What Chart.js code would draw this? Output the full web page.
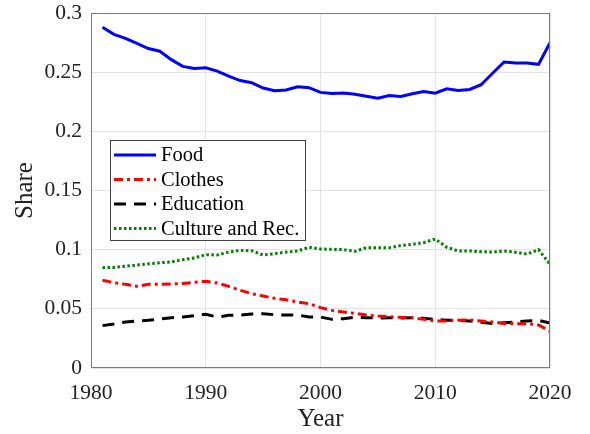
<!DOCTYPE html>
<html>
<head>
<meta charset="utf-8">
<script src="https://cdn.jsdelivr.net/npm/chart.js@4/dist/chart.umd.min.js"></script>
<style>
    html, body { margin: 0; padding: 0; background: #fff; }
    #wrap { width: 590px; height: 434px; }
</style>
</head>
<body>
<div id="wrap"><canvas id="shareChart" width="590" height="434"></canvas></div>
<script>
const years = [1981, 1982, 1983, 1984, 1985, 1986, 1987, 1988, 1989, 1990,
               1991, 1992, 1993, 1994, 1995, 1996, 1997, 1998, 1999, 2000,
               2001, 2002, 2003, 2004, 2005, 2006, 2007, 2008, 2009, 2010,
               2011, 2012, 2013, 2014, 2015, 2016, 2017, 2018, 2019, 2020];

const food = [0.288, 0.282, 0.2786, 0.2743, 0.270, 0.2677, 0.2606, 0.2549, 0.2531, 0.2537,
              0.2509, 0.2466, 0.2429, 0.2411, 0.2366, 0.2343, 0.2349, 0.2377, 0.2369, 0.2329,
              0.232, 0.2323, 0.2314, 0.2297, 0.228, 0.2303, 0.2294, 0.2317, 0.2337, 0.2323,
              0.236, 0.2346, 0.2354, 0.2394, 0.2491, 0.2586, 0.2577, 0.2577, 0.2566, 0.2749];

const clothes = [0.0741, 0.0721, 0.0707, 0.069, 0.0707, 0.0707, 0.071, 0.0715, 0.0724, 0.0732,
                 0.0718, 0.069, 0.0656, 0.0628, 0.0608, 0.0589, 0.0577, 0.0558, 0.0544, 0.051,
                 0.0487, 0.0473, 0.0462, 0.0448, 0.0439, 0.0434, 0.0428, 0.0425, 0.0411, 0.0397,
                 0.0397, 0.0403, 0.0406, 0.0397, 0.0389, 0.0377, 0.0375, 0.0375, 0.0363, 0.031];

const education = [0.0358, 0.0372, 0.0389, 0.0397, 0.0403, 0.0414, 0.0425, 0.0431, 0.0442, 0.0454,
                   0.0431, 0.0445, 0.0448, 0.0456, 0.0459, 0.045, 0.0448, 0.0448, 0.0431, 0.0431,
                   0.0411, 0.0417, 0.0428, 0.0425, 0.0423, 0.0425, 0.0423, 0.0425, 0.042, 0.0411,
                   0.0403, 0.0403, 0.0397, 0.0386, 0.0375, 0.0383, 0.0389, 0.0397, 0.0403, 0.038];

const culture = [0.0848, 0.085, 0.086, 0.087, 0.088, 0.089, 0.0896, 0.0915, 0.093, 0.0958,
                 0.0955, 0.098, 0.0994, 0.099, 0.0955, 0.0966, 0.098, 0.0989, 0.102, 0.1006,
                 0.1003, 0.1, 0.0986, 0.1017, 0.1017, 0.1017, 0.1034, 0.1045, 0.106, 0.109,
                 0.102, 0.0989, 0.0989, 0.0983, 0.098, 0.0989, 0.0978, 0.0963, 0.1, 0.0876];

const seriesNames = ['Food', 'Clothes', 'Education', 'Culture and Rec.'];
const xTicks = [1980, 1990, 2000, 2010, 2020];
const yTicks = [0, 0.05, 0.1, 0.15, 0.2, 0.25, 0.3];

const FONT = "'Liberation Serif', 'Times New Roman', serif";

function toPoints(vals) {
    return years.map((y, i) => ({ x: y, y: vals[i] }));
}

// box around the plot + legend inside the axes
const boxLegend = {
    id: 'boxLegend',
    afterDatasetsDraw(chart) {
        const { ctx, chartArea } = chart;
        ctx.save();
        ctx.strokeStyle = '#7a7a7a';
        ctx.lineWidth = 1;
        ctx.setLineDash([]);
        ctx.strokeRect(chartArea.left + 0.5, chartArea.top + 0.5,
                       chartArea.right - chartArea.left - 1, chartArea.bottom - chartArea.top - 1);

        const lx = chartArea.left + 19;
        const ly = chartArea.top + 127;
        const lw = 195;
        const lh = 100;
        ctx.fillStyle = '#fff';
        ctx.fillRect(lx, ly, lw, lh);
        ctx.strokeStyle = '#444';
        ctx.strokeRect(lx + 0.5, ly + 0.5, lw, lh);

        ctx.font = '20.5px ' + FONT;
        ctx.textBaseline = 'middle';
        chart.data.datasets.forEach((ds, i) => {
            const rowY = ly + 15 + i * 24.5;
            ctx.strokeStyle = ds.borderColor;
            ctx.lineWidth = ds.borderWidth;
            ctx.setLineDash(ds.borderDash || []);
            ctx.beginPath();
            ctx.moveTo(lx + 4, rowY);
            ctx.lineTo(lx + 46, rowY);
            ctx.stroke();
            ctx.setLineDash([]);
            ctx.fillStyle = '#000';
            ctx.fillText(ds.label, lx + 51, rowY + 1);
        });
        ctx.restore();
    }
};

const ctx = document.getElementById('shareChart').getContext('2d');
new Chart(ctx, {
    type: 'line',
    data: {
        datasets: [
            { label: seriesNames[0], data: toPoints(food), borderColor: '#0000ff', borderWidth: 3 },
            { label: seriesNames[1], data: toPoints(clothes), borderColor: '#ff0000', borderWidth: 3, borderDash: [9, 4, 3, 4] },
            { label: seriesNames[2], data: toPoints(education), borderColor: '#000000', borderWidth: 3, borderDash: [12, 8] },
            { label: seriesNames[3], data: toPoints(culture), borderColor: '#008000', borderWidth: 3, borderDash: [2.5, 2.5] }
        ]
    },
    options: {
        responsive: false,
        animation: false,
        layout: { padding: { left: 0, right: 40, top: 13, bottom: 0 } },
        elements: { point: { radius: 0 }, line: { tension: 0, fill: false } },
        plugins: { legend: { display: false }, tooltip: { enabled: false } },
        scales: {
            x: {
                type: 'linear',
                min: 1980,
                max: 2020,
                afterBuildTicks: scale => { scale.ticks = xTicks.map(v => ({ value: v })); },
                afterFit: scale => {
                    scale.height = 66;
                    scale.paddingLeft = 0;
                    scale.paddingRight = 0;
                },
                grid: { color: '#e3e3e3', drawTicks: false },
                border: { display: false },
                ticks: {
                    color: '#222',
                    padding: 12,
                    font: { family: FONT, size: 21.5 },
                    callback: v => String(v)
                },
                title: { display: true, text: 'Year', color: '#222', padding: 0, font: { family: FONT, size: 25 } }
            },
            y: {
                min: 0,
                max: 0.3,
                afterBuildTicks: scale => { scale.ticks = yTicks.map(v => ({ value: v })); },
                afterFit: scale => {
                    scale.width = 91;
                    scale.paddingTop = 0;
                    scale.paddingBottom = 0;
                },
                grid: { color: '#e3e3e3', drawTicks: false },
                border: { display: false },
                ticks: {
                    color: '#222',
                    padding: 9,
                    font: { family: FONT, size: 21.5 },
                    callback: v => String(Number(v.toFixed(2)))
                },
                title: { display: true, text: 'Share', color: '#222', padding: { top: 10, bottom: 0 }, font: { family: FONT, size: 25 } }
            }
        }
    },
    plugins: [boxLegend]
});
</script>
</body>
</html>
